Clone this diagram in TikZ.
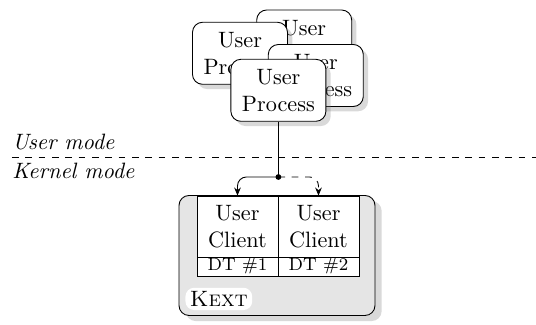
\documentclass[tikz,border=0pt]{standalone}
\usetikzlibrary{shadows,arrows.meta}
\begin{document}
\begin{tikzpicture}[x=0.45pt,y=-0.45pt,
  proc/.style={draw, fill=white, rounded corners=4.5pt, align=center,
    minimum width=42.75pt, minimum height=27.9pt, inner sep=2pt,
    drop shadow={opacity=0.3}},
  kextbox/.style={draw, fill=black!10, rounded corners=4.5pt,
    minimum width=88.2pt, minimum height=54pt, inner sep=0pt,
    drop shadow={opacity=0.3, shadow xshift=3pt, shadow yshift=-2.5pt}},
  cell/.style={draw, fill=white, align=center, inner sep=1pt,
    minimum width=36.45pt, minimum height=27.45pt},
  dtcell/.style={draw, fill=white, inner sep=0.3pt, font=\footnotesize,
    minimum width=36.45pt, minimum height=8.55pt},
  kextlabel/.style={fill=white, rounded corners=4pt, inner xsep=2pt, inner ysep=1.6pt},
  modelabel/.style={font=\itshape, inner xsep=0pt},
  arr/.style={-{Stealth[length=3.6pt,width=3pt]}, rounded corners=4pt},
  junction/.style={circle, fill, inner sep=0pt, minimum size=2.6pt}]
\useasboundingbox (0,0) rectangle (536,325);

% user-space processes, back to front
\node[proc] (p3) at (304.2,41) {User\\Process};
\node[proc] (p2) at (240,53.3) {User\\Process};
\node[proc] (p4) at (315.8,75.5) {User\\Process};
\node[proc] (p1) at (278.4,90.3) {User\\Process};

% user/kernel boundary
\coordinate (ml) at (12,157);
\coordinate (mr) at (536,157);
\draw[dashed] (ml) -- (mr);
\node[modelabel, anchor=south west, inner ysep=3pt] (um) at (ml) {User mode};
\node[modelabel, anchor=north west, inner ysep=2.4pt] (km) at (ml) {Kernel mode};

% kernel extension with its user clients
\node[kextbox] (kext) at (277,255.5) {};
\node[cell] (c1) at (237.5,226.5) {User\\Client};
\node[cell] (c2) at (318.5,226.5) {User\\Client};
\node[dtcell] (d1) at (237.5,266.5) {DT \#1};
\node[dtcell] (d2) at (318.5,266.5) {DT \#2};
\node[kextlabel, anchor=south west] (kl) at (185,310.5) {\textsc{Kext}};

% connection from the front process to the clients
\node[junction] (j) at (278.4,177) {};
\draw (p1.south) -- (j.center);
\draw[arr] (j.center) -| (c1.north);
\draw[arr, dashed] (j.center) -| (c2.north);
\end{tikzpicture}
\end{document}
